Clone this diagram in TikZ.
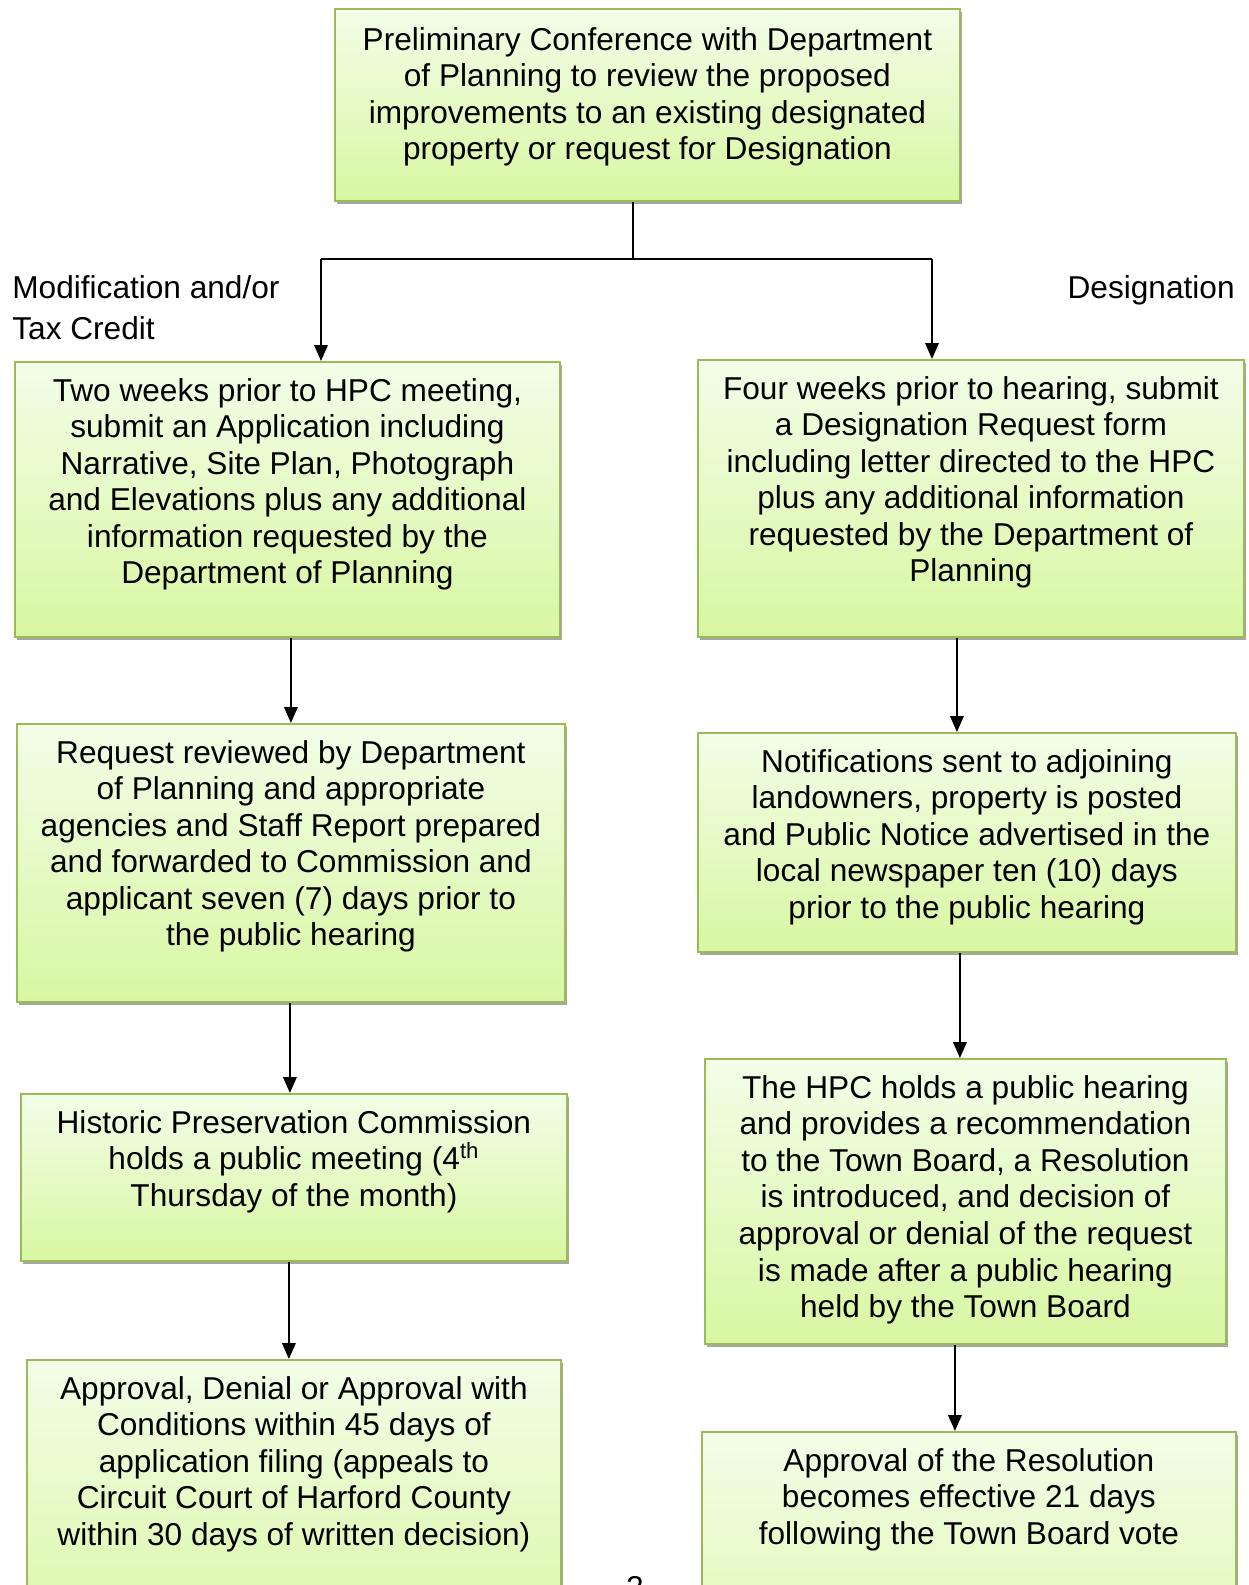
\documentclass[tikz,border=0pt]{standalone}
\usepackage{fontspec}
\setmainfont{Liberation Sans}
\usetikzlibrary{arrows.meta, positioning, shadows}
\definecolor{boxline}{HTML}{9BBB59}
\definecolor{boxtop}{HTML}{F3FDE8}
\definecolor{boxbottom}{HTML}{D8F7A2}
\definecolor{boxshadow}{HTML}{A6A6A6}

\begin{document}
\begin{tikzpicture}[
  x=0.02cm, y=-0.02cm,
  >={Triangle[width=0.27cm, length=0.32cm]},
  stepbox/.style={draw=boxline, line width=1.1pt, top color=boxtop,
                  bottom color=boxbottom, anchor=north west, inner sep=0pt,
                  drop shadow={shadow xshift=0.04cm, shadow yshift=-0.06cm,
                               fill=boxshadow, opacity=1}},
  steptext/.style={inner sep=0pt, align=center,
                   font=\fontsize{18}{20.8}\selectfont},
  lbl/.style={inner sep=0pt, align=left, font=\fontsize{18}{23.5}\selectfont},
  flow/.style={->, line width=1.1pt},
  link/.style={line width=1.1pt}
]
\useasboundingbox (0,0) rectangle (1248,1585);

% Top conference box
\node[stepbox, minimum width=12.5cm, minimum height=3.84cm] (top) at (334,8) {};
\node[steptext, below=0.38cm of top.north] (topt)
  {Preliminary Conference with Department\\of Planning to review the proposed\\improvements to an existing designated\\property or request for Designation};

% Branch labels
\node[lbl, anchor=north west] (modlbl) at (12,275) {Modification and/or\\Tax Credit};
\node[lbl, anchor=north east] (deslbl) at (1235,275) {Designation};

% Left column
\node[stepbox, minimum width=10.9cm, minimum height=5.5cm] (l1) at (14,361) {};
\node[steptext, below=0.34cm of l1.north] (l1t)
  {Two weeks prior to HPC meeting,\\submit an Application including\\Narrative, Site Plan, Photograph\\and Elevations plus any additional\\information requested by the\\Department of Planning};

\node[stepbox, minimum width=10.96cm, minimum height=5.56cm] (l2) at (16,723) {};
\node[steptext, below=0.34cm of l2.north] (l2t)
  {Request reviewed by Department\\of Planning and appropriate\\agencies and Staff Report prepared\\and forwarded to Commission and\\applicant seven (7) days prior to\\the public hearing};

\node[stepbox, minimum width=10.92cm, minimum height=3.34cm] (l3) at (20,1093) {};
\node[steptext, below=0.34cm of l3.north] (l3t)
  {Historic Preservation Commission\\holds a public meeting (4\textsuperscript{th}\\Thursday of the month)};

\node[stepbox, minimum width=10.68cm, minimum height=6cm] (l4) at (26,1359) {};
\node[steptext, below=0.34cm of l4.north] (l4t)
  {Approval, Denial or Approval with\\Conditions within 45 days of\\application filing (appeals to\\Circuit Court of Harford County\\within 30 days of written decision)};

% Right column
\node[stepbox, minimum width=10.92cm, minimum height=5.54cm] (r1) at (697,359) {};
\node[steptext, below=0.34cm of r1.north] (r1t)
  {Four weeks prior to hearing, submit\\a Designation Request form\\including letter directed to the HPC\\plus any additional information\\requested by the Department of\\Planning};

\node[stepbox, minimum width=10.76cm, minimum height=4.38cm] (r2) at (697,732) {};
\node[steptext, below=0.34cm of r2.north] (r2t)
  {Notifications sent to adjoining\\landowners, property is posted\\and Public Notice advertised in the\\local newspaper ten (10) days\\prior to the public hearing};

\node[stepbox, minimum width=10.42cm, minimum height=5.7cm] (r3) at (704,1058) {};
\node[steptext, below=0.34cm of r3.north] (r3t)
  {The HPC holds a public hearing\\and provides a recommendation\\to the Town Board, a Resolution\\is introduced, and decision of\\approval or denial of the request\\is made after a public hearing\\held by the Town Board};

\node[stepbox, minimum width=10.68cm, minimum height=6cm] (r4) at (701,1431) {};
\node[steptext, below=0.34cm of r4.north] (r4t)
  {Approval of the Resolution\\becomes effective 21 days\\following the Town Board vote};

% Page number, cut by the page edge
\node[lbl, anchor=base] (pageno) at (635,1598) {2};

% Split below the top box
\coordinate (split) at (633,259);
\coordinate (lsplit) at (321,259);
\coordinate (rsplit) at (932,259);
\draw[link] (top.south -| split) -- (split);
\draw[link] (lsplit) -- (rsplit);
\draw[flow] (lsplit) -- (lsplit |- l1.north);
\draw[flow] (rsplit) -- (rsplit |- r1.north);

% Left column arrows
\draw[flow] (l2.north |- l1.south) -- (l2.north);
\draw[flow] ([xshift=-0.08cm]l3.north |- l2.south) -- ([xshift=-0.08cm]l3.north);
\draw[flow] ([xshift=-0.1cm]l4.north |- l3.south) -- ([xshift=-0.1cm]l4.north);

% Right column arrows
\draw[flow] ([xshift=-0.2cm]r2.north |- r1.south) -- ([xshift=-0.2cm]r2.north);
\draw[flow] ([xshift=-0.11cm]r3.north |- r2.south) -- ([xshift=-0.11cm]r3.north);
\draw[flow] ([xshift=-0.28cm]r4.north |- r3.south) -- ([xshift=-0.28cm]r4.north);

\end{tikzpicture}
\end{document}
